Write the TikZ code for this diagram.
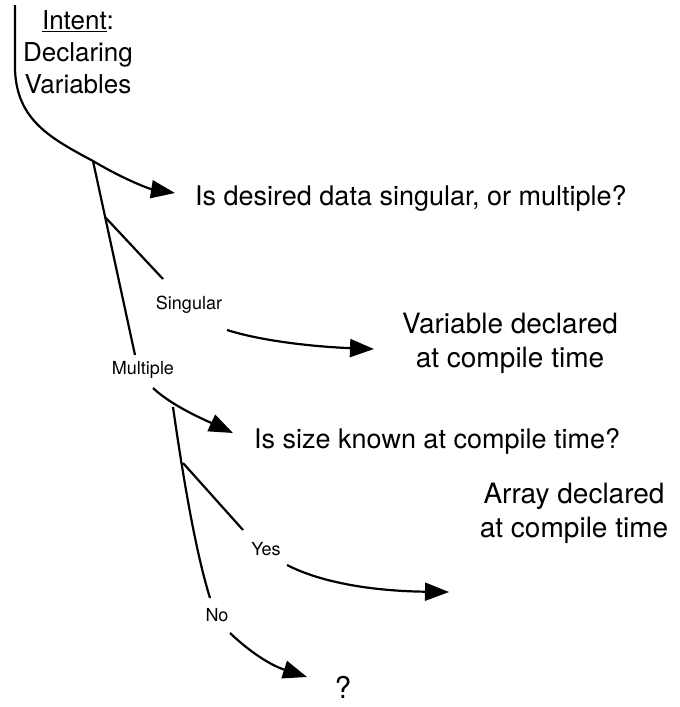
\documentclass[tikz,border=0pt]{standalone}
\usepackage{fontspec}
\setmainfont{TeX Gyre Heros}
\usetikzlibrary{arrows.meta}

\begin{document}
\begin{tikzpicture}[x=1pt,y=-1pt,
  branch/.style={line width=2.2pt},
  flow/.style={line width=2.2pt,-{Triangle[length=24pt,width=18pt]}},
  ask/.style={font=\fontsize{27}{33}\selectfont,inner sep=0pt},
  outcome/.style={font=\fontsize{28}{34}\selectfont,align=center,inner sep=0pt},
  answer/.style={font=\fontsize{18}{22}\selectfont,inner sep=0pt}]
  \useasboundingbox (0,0) rectangle (680,707);
  % texts
  \node[font=\fontsize{26}{32}\selectfont,align=center,inner sep=0pt] (intent) at (78,52) {\underline{Intent}:\\Declaring\\Variables};
  \node[ask,anchor=base west] (q1) at (195,205) {Is desired data singular, or multiple?};
  \node[ask,anchor=base west] (q2) at (254,448) {Is size known at compile time?};
  \node[outcome] (var) at (510,343) {Variable declared\\at compile time};
  \node[outcome] (arr) at (574,513) {Array declared\\at compile time};
  \node[font=\fontsize{30}{34}\selectfont,inner sep=0pt] (open) at (343,687) {?};
  \node[answer] (sing) at (189,305) {Singular};
  \node[answer] (mult) at (143,370) {Multiple};
  \node[answer] (yes) at (266,549) {Yes};
  \node[answer] (no) at (217,615) {No};
  % branch points and arrow ends
  \coordinate (top) at (15,5);
  \coordinate (b1) at (93,161);
  \coordinate (b2) at (105,217);
  \coordinate (m1) at (135,355);
  \coordinate (s1) at (163,279);
  \coordinate (m2) at (153,388);
  \coordinate (b3) at (173,407);
  \coordinate (b4) at (183,463);
  \coordinate (b5) at (210,598);
  \coordinate (y1) at (243,530);
  \coordinate (q1tip) at (175,193);
  \coordinate (q2tip) at (233,433);
  \coordinate (vartip) at (374,349);
  \coordinate (arrtip) at (449,592);
  \coordinate (opentip) at (307,677);
  % trunk
  \draw[flow] (top) -- (15,70) .. controls (17,120) and (50,138) .. (b1)
    .. controls (125,180) and (150,189) .. (q1tip);
  \draw[branch] (b1) -- (m1);
  \draw[branch] (b2) -- (s1);
  \draw[flow] (227,330) .. controls (265,342) and (320,347) .. (vartip);
  % multiple
  \draw[flow] (m2) .. controls (172,406) and (205,420) .. (q2tip);
  \draw[branch] (b3) .. controls (182,470) and (195,550) .. (b5);
  \draw[branch] (b4) -- (y1);
  \draw[flow] (287,565) .. controls (320,582) and (370,591) .. (arrtip);
  \draw[flow] (230,633) .. controls (250,652) and (270,665) .. (opentip);
\end{tikzpicture}
\end{document}
